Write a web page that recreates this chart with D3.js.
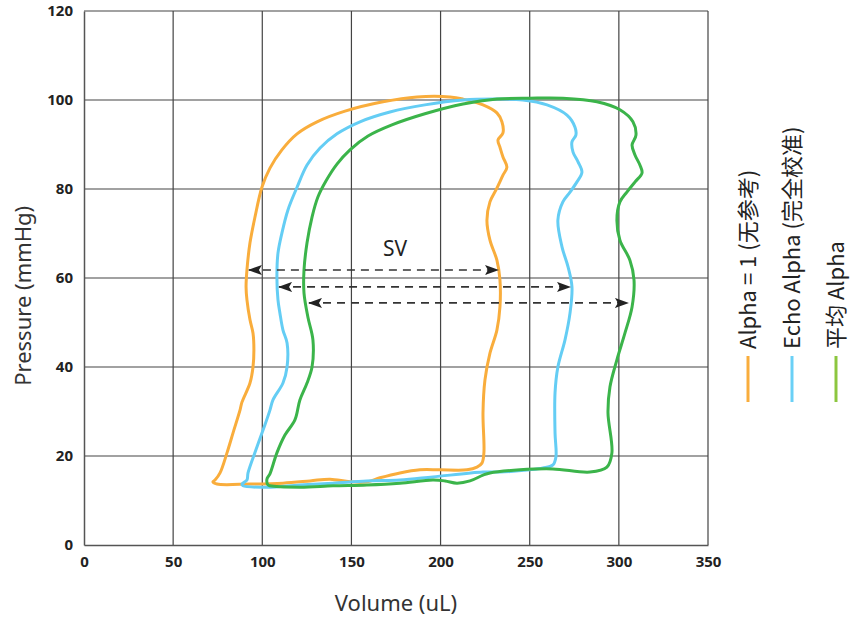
<!DOCTYPE html>
<html>
<head>
<meta charset="utf-8">
<script src="https://cdn.jsdelivr.net/npm/d3@7"></script>
<style>
  body { margin: 0; background: #fff; }
  svg { display: block; }
</style>
</head>
<body>
<div id="chart"></div>
<script>
// ---- data (volume uL, pressure mmHg) ----
var xTicks = [0, 50, 100, 150, 200, 250, 300, 350];
var yTicks = [0, 20, 40, 60, 80, 100, 120];

var seriesNames = ["Alpha = 1 (无参考)", "Echo Alpha (完全校准)", "平均 Alpha"];
var seriesColors = ["#f9ad3c", "#64cdf4", "#3bb44a"];
var legendColors = ["#f9ad3c", "#6ad0f6", "#8cc63f"];

var alphaOne = [
    [73.5,14.6],[76.3,16.2],[80.2,20.7],[83.6,25.2],[87.5,30.3],[88.6,32.1],[93.1,36.4],
    [94.8,40.0],[95.3,43.8],[94.8,47.6],[93.1,50.6],[91.4,55.1],[90.9,58.0],[91.4,61.8],
    [93.1,67.9],[95.9,73.7],[99.8,80.4],[104.3,84.7],[111.0,88.8],[119.5,92.4],[130.7,95.1],
    [146.4,97.5],[167.7,99.6],[186.8,100.7],[205.3,100.7],[212.6,100.2],[223.8,98.9],
    [231.6,97.1],[234.4,95.1],[235.0,92.6],[232.2,91.0],[233.3,89.4],[235.0,87.2],[237.2,84.9],
    [235.0,83.1],[231.6,80.2],[227.7,77.1],[226.0,73.0],[227.7,68.5],[231.6,64.0],[233.3,59.6],
    [233.3,53.5],[231.6,48.3],[227.7,43.1],[224.9,37.1],[223.8,29.7],[224.3,20.7],[223.2,18.4],
    [220.4,17.5],[214.8,16.9],[199.7,16.9],[188.4,16.9],[177.2,16.2],[166.0,15.1],[158.7,14.2],
    [149.2,14.2],[138.0,14.8],[126.8,14.4],[111.6,13.9],[93.1,13.7],[74.6,13.7],[72.3,14.2]
];

var echoAlpha = [
    [91.4,14.6],[92.0,16.2],[97.0,22.0],[101.5,27.0],[104.3,30.3],[106.0,32.6],[111.6,36.4],
    [113.9,40.0],[113.9,45.4],[111.6,48.3],[109.9,52.1],[108.8,55.1],[108.2,60.2],[108.8,65.6],
    [111.0,70.1],[114.4,75.3],[119.5,80.4],[125.1,85.4],[132.4,89.2],[141.9,92.4],[154.8,95.1],
    [171.6,97.3],[191.2,98.9],[212.6,100.0],[231.6,100.2],[246.2,100.0],[259.7,98.9],[270.9,96.6],
    [275.4,93.9],[275.9,92.1],[273.7,90.6],[274.3,88.3],[277.1,86.1],[279.3,83.8],[276.5,81.6],
    [272.6,79.3],[268.6,77.1],[265.8,73.0],[268.1,67.0],[271.5,62.5],[273.7,58.0],[272.6,52.1],
    [269.8,46.1],[265.8,40.0],[264.2,34.2],[264.2,25.2],[264.7,19.8],[263.0,18.0],[257.4,17.3],
    [250.1,16.9],[233.3,16.4],[223.8,16.4],[195.7,15.3],[177.2,14.6],[158.7,14.4],[139.7,13.9],
    [121.1,13.5],[102.6,13.0],[89.2,13.3],[88.6,13.7]
];

var meanAlpha = [
    [102.6,14.8],[104.3,16.0],[108.2,20.7],[112.7,24.7],[118.3,28.1],[121.1,32.6],[125.1,36.4],
    [127.9,40.0],[128.4,46.1],[125.6,51.2],[123.4,56.6],[123.4,61.8],[125.1,67.9],[127.9,73.7],
    [131.2,78.2],[135.7,81.8],[141.9,85.6],[149.2,88.8],[159.3,91.9],[172.7,94.4],[191.2,96.9],
    [212.6,99.1],[231.6,100.2],[250.1,100.4],[268.6,100.4],[287.7,99.6],[300.6,97.8],
    [307.9,95.1],[309.6,92.1],[307.4,89.9],[309.1,87.6],[311.8,85.4],[313.0,83.6],[309.1,81.6],
    [304.5,79.3],[300.6,77.1],[298.9,73.0],[300.6,68.5],[306.2,64.0],[308.5,59.6],[307.4,53.5],
    [303.4,47.6],[298.9,41.6],[295.0,35.5],[293.9,29.7],[296.1,20.7],[293.3,17.5],[283.8,16.4],
    [263.0,17.1],[244.5,16.9],[227.7,16.2],[223.8,15.7],[216.5,14.4],[209.2,13.9],[202.5,14.4],
    [195.7,14.6],[177.2,13.9],[158.7,13.5],[139.7,13.3],[121.1,13.0],[104.3,13.3],[103.2,13.5]
];

// SV arrows: [pressure, left volume, right volume]
var svArrows = [
    [61.8, 92.5, 232.2],
    [58.0, 109.4, 272.6],
    [54.4, 126.2, 305.1]
];

// ---- layout ----
var width = 861, height = 620;
var margin = {top: 11, right: 153, bottom: 75, left: 84};

var svg = d3.select('#chart').append('svg')
    .attr('width', width)
    .attr('height', height);

var x = d3.scaleLinear().domain([0, 350]).range([margin.left, width - margin.right]);
var y = d3.scaleLinear().domain([0, 120]).range([height - margin.bottom, margin.top]);

// arrow marker
var defs = svg.append('defs');
defs.append('marker')
    .attr('id', 'arrowhead')
    .attr('viewBox', '0 0 14 10')
    .attr('refX', 13)
    .attr('refY', 5)
    .attr('markerWidth', 14)
    .attr('markerHeight', 10)
    .attr('markerUnits', 'userSpaceOnUse')
    .attr('orient', 'auto-start-reverse')
    .append('path')
    .attr('d', 'M0,0 L14,5 L0,10 L3,5 Z')
    .attr('fill', '#222');

// grid
let grid = svg.append('g').attr('class', 'grid');
grid.selectAll('line.h')
    .data(yTicks.slice(1))
    .enter().append('line')
    .attr('x1', x(0)).attr('x2', x(350))
    .attr('y1', d => y(d)).attr('y2', d => y(d))
    .attr('stroke', '#444').attr('stroke-width', 1.2);
grid.selectAll('line.v')
    .data(xTicks.slice(1))
    .enter().append('line')
    .attr('y1', y(0)).attr('y2', y(120))
    .attr('x1', d => x(d)).attr('x2', d => x(d))
    .attr('stroke', '#444').attr('stroke-width', 1.2);

// axes
let xAxis = svg.append('g')
    .attr('transform', 'translate(0,' + y(0) + ')')
    .call(d3.axisBottom(x).tickValues(xTicks).tickSize(0).tickPadding(11));
let yAxis = svg.append('g')
    .attr('transform', 'translate(' + x(0) + ',0)')
    .call(d3.axisLeft(y).tickValues(yTicks).tickSize(0).tickPadding(11));

[xAxis, yAxis].forEach(function(a){
    a.attr('font-size', null);
    a.select('.domain').attr('stroke', '#555').attr('stroke-width', 1.5);
    a.selectAll('text')
        .style('font-family', '"Noto Sans", sans-serif')
        .style('font-weight', 700)
        .style('font-size', '15px')
        .attr('fill', '#222');
});

// axis titles
svg.append('text')
    .attr('x', x(175))
    .attr('y', 611)
    .attr('text-anchor', 'middle')
    .attr('font-family', '"Noto Sans", sans-serif')
    .attr('font-size', 22)
    .attr('fill', '#333')
    .text('Volume (uL)');

svg.append('text')
    .attr('transform', 'translate(31,' + y(56) + ') rotate(-90)')
    .attr('text-anchor', 'middle')
    .attr('font-family', '"Noto Sans", sans-serif')
    .attr('font-size', 22)
    .attr('fill', '#333')
    .text('Pressure (mmHg)');

// < --------- PV loops -------------> //
let line = d3.line()
    .x(d => x(d[0]))
    .y(d => y(d[1]))
    .curve(d3.curveCatmullRomClosed.alpha(0.5));

let loops = [alphaOne, echoAlpha, meanAlpha];
svg.append('g').selectAll('path')
    .data(loops)
    .enter().append('path')
    .attr('d', d => line(d))
    .attr('fill', 'none')
    .attr('stroke', (d, i) => seriesColors[i])
    .attr('stroke-width', 3)
    .attr('stroke-linejoin', 'round');

// SV arrows
svg.append('g').selectAll('line')
    .data(svArrows)
    .enter().append('line')
    .attr('x1', d => x(d[1])).attr('x2', d => x(d[2]))
    .attr('y1', d => y(d[0])).attr('y2', d => y(d[0]))
    .attr('stroke', '#333')
    .attr('stroke-width', 1.6)
    .attr('stroke-dasharray', '8,6')
    .attr('marker-start', 'url(#arrowhead)')
    .attr('marker-end', 'url(#arrowhead)');

svg.append('text')
    .attr('x', 395)
    .attr('y', 256)
    .attr('text-anchor', 'middle')
    .attr('font-family', '"Noto Sans", sans-serif')
    .attr('font-size', 21)
    .attr('fill', '#222')
    .text('SV');

// legend (vertical)
let legend = svg.append('g');
let legendX = [748, 792, 836];
seriesNames.forEach(function(name, i){
    legend.append('line')
        .attr('x1', legendX[i]).attr('x2', legendX[i])
        .attr('y1', 356).attr('y2', 402)
        .attr('stroke', legendColors[i])
        .attr('stroke-width', 3);
    legend.append('text')
        .attr('transform', 'translate(' + (legendX[i] + 8) + ',349) rotate(-90)')
        .attr('text-anchor', 'start')
        .attr('font-family', '"Noto Sans CJK SC", "Noto Sans", sans-serif')
        .attr('font-size', 22)
        .attr('fill', '#222')
        .text(name);
});
</script>
</body>
</html>
